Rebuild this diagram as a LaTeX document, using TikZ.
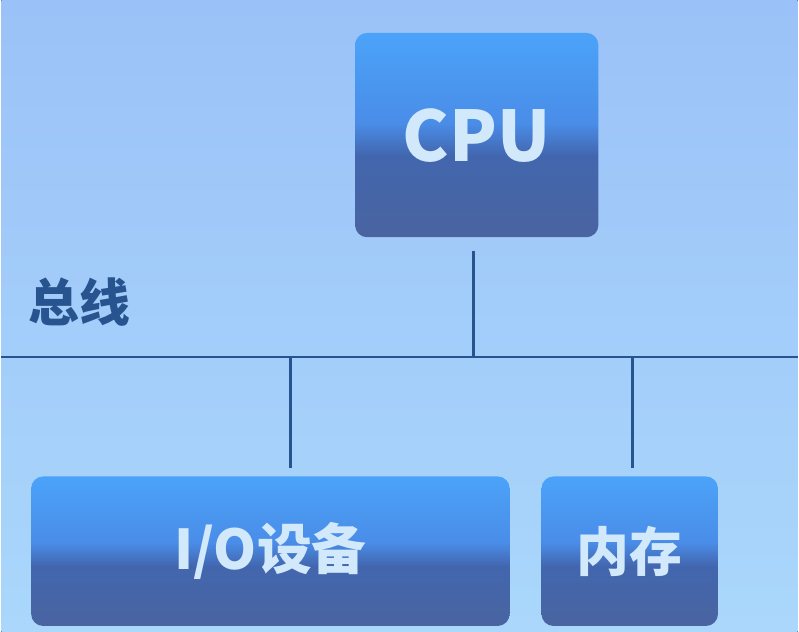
\documentclass[tikz,border=0pt]{standalone}
\usepackage{fontspec}
\setmainfont{Noto Sans CJK SC}
\usetikzlibrary{positioning}
\definecolor{bgtop}{HTML}{9BC2F8}
\definecolor{bgbot}{HTML}{AAD7FB}
\definecolor{boxtop}{HTML}{4BA3F9}
\definecolor{boxmid}{HTML}{4A8DE8}
\definecolor{boxdark}{HTML}{4266AE}
\definecolor{boxbot}{HTML}{4A64A0}
\definecolor{buscol}{HTML}{27538F}
\definecolor{txtcol}{HTML}{D2E9FC}
\pgfdeclareverticalshading{unitshade}{100bp}{color(0bp)=(boxbot); color(25bp)=(boxbot); color(45bp)=(boxdark); color(53bp)=(boxmid); color(75bp)=(boxtop); color(100bp)=(boxtop)}

\begin{document}
\begin{tikzpicture}[x=1pt,y=-1pt,
    unit/.style={shading=unitshade, rounded corners=12pt, inner sep=0pt,
        text=txtcol, font=\bfseries},
    wire/.style={draw=buscol, line width=2.6pt}]
    \fill[top color=bgtop, bottom color=bgbot] (0,0) rectangle (799,634);
    % units
    \node[unit, minimum width=244pt, minimum height=205pt, font=\bfseries\fontsize{70}{70}\selectfont] (cpu) at (477,135.5) {CPU};
    \node[unit, minimum width=480pt, minimum height=150pt, font=\bfseries\fontsize{55}{55}\selectfont] (io) at (270,553) {I/O设备};
    \node[unit, minimum width=177pt, minimum height=150pt, font=\bfseries\fontsize{53}{53}\selectfont] (mem) at (630.5,553) {内存};
    % bus
    \coordinate (busL) at (0,358);
    \coordinate (busR) at (799,358);
    \node[text=buscol, font=\bfseries\fontsize{51}{51}\selectfont] (buslabel) at (78,303) {总线};
    \draw[wire] (busL) -- (busR);
    \draw[wire, shorten <=14pt] ([xshift=-3pt]cpu.south) -- ([xshift=-3pt]cpu.south |- busL);
    \draw[wire, shorten >=8pt] ([xshift=20pt]io.north |- busL) -- ([xshift=20pt]io.north);
    \draw[wire, shorten >=8pt] ([xshift=2.5pt]mem.north |- busL) -- ([xshift=2.5pt]mem.north);
\end{tikzpicture}
\end{document}
